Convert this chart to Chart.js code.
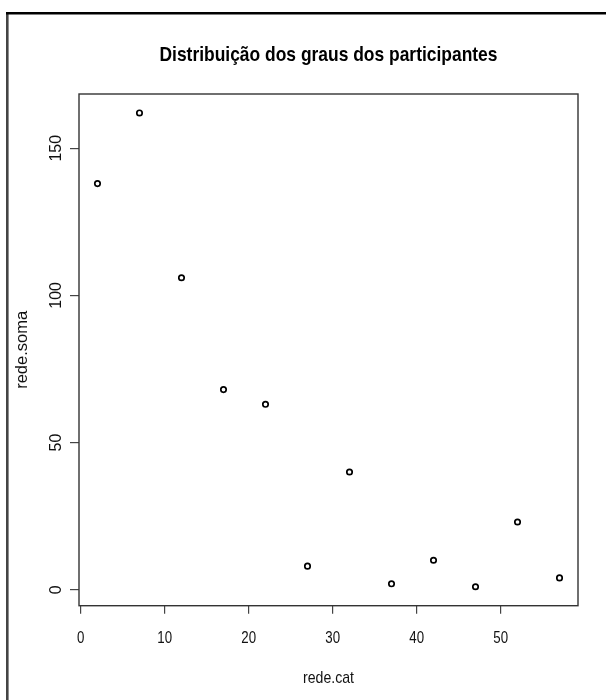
<!DOCTYPE html>
<html>
<head>
<meta charset="utf-8">
<title>Distribuição dos graus dos participantes</title>
<script src="https://cdn.jsdelivr.net/npm/chart.js@4.4.1/dist/chart.umd.min.js"></script>
<style>
  html, body { margin: 0; padding: 0; background: #fff; }
  canvas { display: block; }
</style>
</head>
<body>
<canvas id="grausChart" width="606" height="700"></canvas>
<script>
// data
const redeCat = [2, 7, 12, 17, 22, 27, 32, 37, 42, 47, 52, 57];
const redeSoma = [138, 162, 106, 68, 63, 8, 40, 2, 10, 1, 23, 4];
const xTicks = [0, 10, 20, 30, 40, 50];
const yTicks = [0, 50, 100, 150];

const titleText = "Distribuição dos graus dos participantes";
const xLabel = "rede.cat";
const yLabel = "rede.soma";

const fontFam = "'Liberation Sans', Arial, sans-serif";
const squeeze = 0.83; // the source image is a bit narrower than it is tall

// draw horizontal text squeezed like the original
function squeezedText(ctx, text, x, y, font) {
  ctx.save();
  ctx.translate(x, y);
  ctx.scale(squeeze, 1);
  ctx.font = font;
  ctx.textAlign = "center";
  ctx.textBaseline = "middle";
  ctx.fillText(text, 0, 0);
  ctx.restore();
}

// R style frame, box and labels
const rPlot = {
  id: "rPlot",
  beforeDraw(chart) {
    const ctx = chart.ctx;
    ctx.save();
    ctx.fillStyle = "#fff";
    ctx.fillRect(0, 0, chart.width, chart.height);
    ctx.restore();
  },
  afterDraw(chart) {
    const ctx = chart.ctx;
    const a = chart.chartArea;
    const xs = chart.scales.x;
    const ys = chart.scales.y;
    const midX = (a.left + a.right) / 2;
    ctx.save();
    // outer frame (top + left)
    ctx.lineWidth = 2.6;
    ctx.strokeStyle = "#444";
    ctx.beginPath();
    ctx.moveTo(7.3, 700);
    ctx.lineTo(7.3, 13.3);
    ctx.stroke();
    ctx.strokeStyle = "#000";
    ctx.beginPath();
    ctx.moveTo(6, 13.3);
    ctx.lineTo(606, 13.3);
    ctx.stroke();
    // plot box
    ctx.strokeStyle = "#333";
    ctx.lineWidth = 1.4;
    ctx.strokeRect(a.left, a.top, a.right - a.left, a.bottom - a.top);

    ctx.fillStyle = "#000";
    squeezedText(ctx, titleText, midX, 55, "bold 21px " + fontFam);
    ctx.fillStyle = "#111";
    xs.ticks.forEach(t => {
      squeezedText(ctx, String(t.value), xs.getPixelForValue(t.value), 638.7, "16px " + fontFam);
    });
    squeezedText(ctx, xLabel, midX, 678.5, "17px " + fontFam);

    // y tick labels, parallel to the axis
    ctx.font = "16px " + fontFam;
    ctx.textAlign = "center";
    ctx.textBaseline = "middle";
    ys.ticks.forEach(t => {
      ctx.save();
      ctx.translate(56.5, ys.getPixelForValue(t.value));
      ctx.rotate(-Math.PI / 2);
      ctx.fillText(String(t.value), 0, 0);
      ctx.restore();
    });
    ctx.restore();
  }
};

const GrausChart = document.getElementById("grausChart");
new Chart(GrausChart, {
  type: "scatter",
  data: {
    datasets: [{
      label: yLabel,
      data: redeCat.map((c, i) => ({ x: c, y: redeSoma[i] })),
      pointStyle: "circle",
      pointRadius: 2.7,
      pointBorderWidth: 1.7,
      borderColor: "#000",
      backgroundColor: "rgba(0,0,0,0)"
    }]
  },
  options: {
    responsive: false,
    animation: false,
    devicePixelRatio: 1,
    layout: { padding: { left: 0, right: 28, top: 94, bottom: 0 } },
    plugins: {
      legend: { display: false },
      tooltip: { enabled: false },
      title: { display: false }
    },
    scales: {
      x: {
        type: "linear",
        min: -0.2,
        max: 59.2,
        afterFit: s => { s.height = 94.3; },
        afterBuildTicks: s => { s.ticks = xTicks.map(v => ({ value: v })); },
        border: { display: false },
        grid: { drawOnChartArea: false, drawTicks: true, tickLength: 8, color: "#444", lineWidth: 1.2 },
        ticks: { display: false }
      },
      y: {
        type: "linear",
        min: -5.44,
        max: 168.44,
        afterFit: s => { s.width = 79; },
        afterBuildTicks: s => { s.ticks = yTicks.map(v => ({ value: v })); },
        border: { display: false },
        grid: { drawOnChartArea: false, drawTicks: true, tickLength: 9, color: "#444", lineWidth: 1.2 },
        ticks: { display: false },
        title: {
          display: true,
          text: yLabel,
          color: "#111",
          font: { family: fontFam, size: 16.5 },
          padding: { top: 12.1, bottom: 0 }
        }
      }
    }
  },
  plugins: [rPlot]
});
</script>
</body>
</html>
